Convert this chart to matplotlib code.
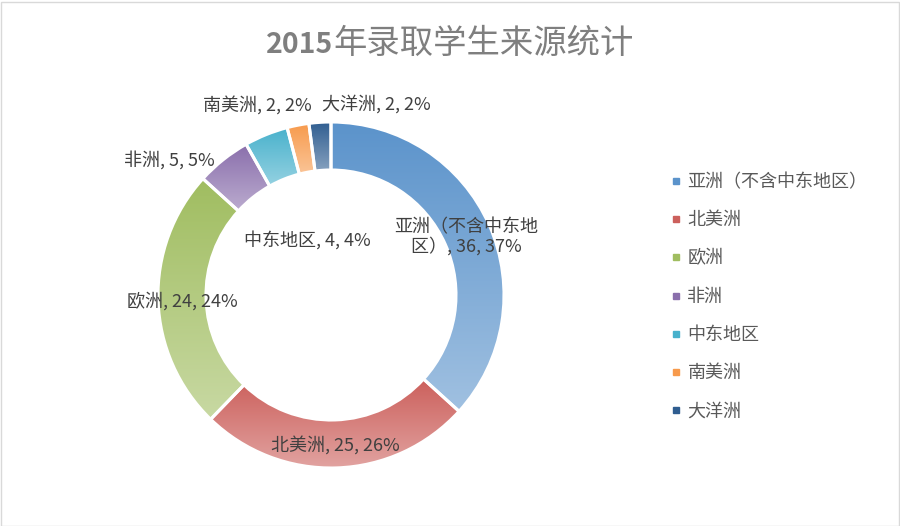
import numpy as np
import matplotlib
matplotlib.use("Agg")
import matplotlib.pyplot as plt
from matplotlib.colors import to_rgb
from matplotlib.lines import Line2D
from matplotlib.patches import Rectangle

plt.rcParams['font.family'] = ['Noto Sans CJK SC', 'DejaVu Sans']

# data
regions = ['亚洲（不含中东地区）', '北美洲', '欧洲', '非洲', '中东地区', '南美洲', '大洋洲']
students = [36, 25, 24, 5, 4, 2, 2]
pct_labels = ['37%', '26%', '24%', '5%', '4%', '2%', '2%']
colors = ['#5b93cb', '#cc605c', '#a0bd60', '#8a6fac', '#48b1cc', '#f79a4c', '#2f5d90']

# label placement in pixels (x, y from top)
label_pos = [(466, 237), (335, 445), (182, 301), (169, 160),
             (307, 240), (257, 105), (376, 104)]
label_text = ['亚洲（不含中东地\n区）', '北美洲', '欧洲', '非洲', '中东地区', '南美洲', '大洋洲']

W, H = 900, 526
fig = plt.figure(figsize=(9, 5.26), dpi=100)
ax = fig.add_axes([0, 0, 1, 1])

cx, cy, r = 331, H - 295, 173
wedges, _ = ax.pie(students, colors=colors, startangle=90, counterclock=False,
                   center=(cx, cy), radius=r,
                   wedgeprops=dict(width=48, edgecolor='white', linewidth=2.2))

# vertical gradient inside each slice: darker at top, lighter at bottom
for w, c in zip(wedges, colors):
    base = np.array(to_rgb(c))
    light = base + (1 - base) * 0.42
    t = np.linspace(0, 1, 256)[:, None]
    grad = (light[None, :] * (1 - t) + base[None, :] * t)[:, None, :]
    ext = w.get_path().get_extents()
    im = ax.imshow(grad, extent=(ext.x0, ext.x1, ext.y0, ext.y1), origin='lower',
                   aspect='auto', zorder=1, interpolation='bilinear')
    im.set_clip_path(w)
    w.set_facecolor('none')
    w.set_zorder(2)

for name, n, p, (x, y) in zip(label_text, students, pct_labels, label_pos):
    ax.text(x, H - y, f'{name}, {n}, {p}', ha='center', va='center',
            fontsize=13, color='#404040', linespacing=1.0, zorder=3)

# title: bold digits, regular CJK
ax.text(333, H - 53, '2015', ha='right', va='baseline', fontsize=20.5,
        fontweight='bold', color='#7f7f7f')
ax.text(333, H - 43, '年录取学生来源统计', ha='left', va='center', fontsize=24,
        color='#7f7f7f')

handles = [Line2D([], [], marker='s', linestyle='none', markersize=5,
                  markerfacecolor=c, markeredgecolor=c) for c in colors]
ax.legend(handles, regions, loc='upper left', bbox_to_anchor=(664 / W, 1 - 166 / H),
          frameon=False, fontsize=13, labelcolor='#595959', handlelength=0.5,
          handletextpad=0.4, labelspacing=1.12, borderaxespad=0)

ax.add_patch(Rectangle((0.5, 0.5), W - 2, H - 2, fill=False,
                       edgecolor='#d9d9d9', linewidth=1))

ax.set_xlim(0, W)
ax.set_ylim(0, H)
ax.set_aspect('auto')
ax.axis('off')

fig.savefig('out.png', dpi=100)
